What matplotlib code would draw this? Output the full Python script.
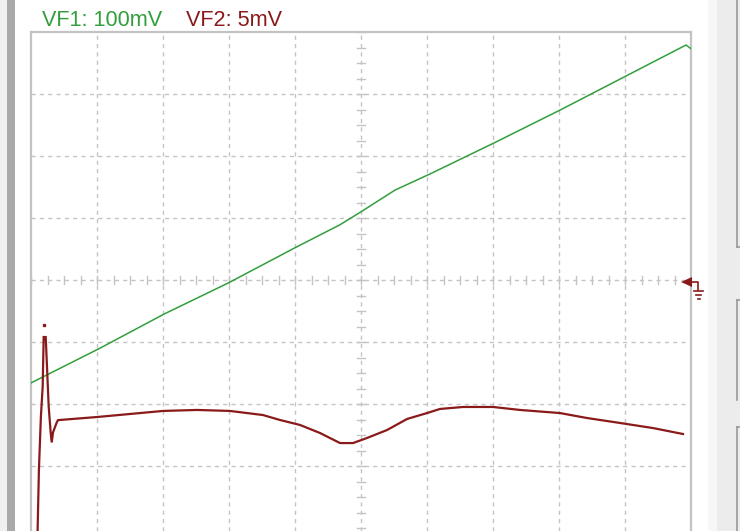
import matplotlib
matplotlib.use("Agg")
import matplotlib.pyplot as plt
from matplotlib.patches import Polygon, Rectangle
import numpy as np

# ---- data (x in horizontal divisions, values in mV) ----
vf1_scale_mv = 100.0   # mV per division
vf2_scale_mv = 5.0     # mV per division

vf1_t = [0.0, 1.045, 2.015, 2.985, 4.0, 4.68, 5.0, 5.515, 6.045, 7.015, 8.015, 9.015, 9.924, 10.0]
vf1_mv = [-166, -110, -55, -5, 52, 89, 110, 145, 171, 221, 274, 329, 379, 373]

vf2_t = [0.091, 0.10, 0.12, 0.15, 0.177, 0.192, 0.223, 0.238, 0.268, 0.298, 0.314, 0.333,
         0.389, 0.409, 1.0, 2.0, 2.515, 3.015, 3.515, 3.773, 4.076, 4.379, 4.682, 4.879,
         5.091, 5.394, 5.697, 6.0, 6.197, 6.545, 7.0, 7.409, 8.015, 8.424, 8.924, 9.424, 9.879]
vf2_mv = [-21.0, -20.2, -15.3, -11.0, -8.6, -4.6, -4.6, -6.45, -10.2, -12.3, -13.1, -12.3,
          -11.5, -11.3, -11.05, -10.56, -10.48, -10.56, -10.89, -11.29, -11.69, -12.34, -13.15, -13.15,
          -12.74, -12.10, -11.21, -10.73, -10.40, -10.24, -10.24, -10.48, -10.73, -11.13, -11.53, -11.94, -12.42]

vf2_dot_t = [0.197]
vf2_dot_mv = [-3.6]

label1 = "VF1: 100mV"
label2 = "VF2: 5mV"

green = "#329e3c"
red = "#8a1a1a"
grid_c = "#c4c4c4"

W, H = 740, 531
fig = plt.figure(figsize=(W / 100, H / 100), dpi=100)
fig.patch.set_facecolor("white")

# background / decoration axes in pixel coordinates
bg = fig.add_axes([0, 0, 1, 1], zorder=0)
bg.set_xlim(0, W)
bg.set_ylim(H, 0)
bg.axis("off")
bg.add_patch(Rectangle((0, 0), 7, H, color="#f0f0f0", lw=0))
bg.add_patch(Rectangle((7, 0), 8, H, color="#a9a9a9", lw=0))
bg.add_patch(Rectangle((708, 0), 9, H, color="#f7f7f7", lw=0))
bg.add_patch(Rectangle((717, 0), 23, H, color="#ececec", lw=0))
for (y0, y1) in [(0, 247), (300, 400), (427, 531)]:
    bg.plot([736.5, 736.5], [y0, y1], color="#9a9a9a", lw=1.2)
    bg.plot([736.5, 740], [y0 if y0 > 0 else y1, y0 if y0 > 0 else y1], color="#9a9a9a", lw=1.2)

# main scope axes
left_px, top_px, right_px, bottom_px = 31, 32, 691, 531
ax = fig.add_axes([left_px / W, 1 - bottom_px / H, (right_px - left_px) / W, (bottom_px - top_px) / H], zorder=1)
ax.set_facecolor("white")
ax.set_xlim(0, 10)
ax.set_ylim((280 - 531) / 62, 4)
for s in ["left", "top", "right"]:
    ax.spines[s].set_color("#c3c3c3")
    ax.spines[s].set_linewidth(1.6)
ax.spines["bottom"].set_visible(False)
ax.set_xticks([])
ax.set_yticks([])

dash = (0, (3.0, 3.0))
for gx in range(1, 10):
    ax.axvline(gx, color=grid_c, lw=1.0, linestyle=dash, zorder=1)
for gy in range(-3, 4):
    ax.axhline(gy, color=grid_c, lw=1.0, linestyle=dash, zorder=1)
# minor ticks along center axes (quarter divisions)
tx = 4 / 66
ty = 4 / 62
for k in np.arange(0, 10.01, 0.25):
    ax.plot([k, k], [-ty, ty], color=grid_c, lw=1.0, zorder=1)
for k in np.arange(-4, 4.01, 0.25):
    ax.plot([5 - tx, 5 + tx], [k, k], color=grid_c, lw=1.0, zorder=1)

ax.plot(vf1_t, np.array(vf1_mv) / vf1_scale_mv, color=green, lw=1.1, zorder=3)
ax.plot(vf2_t, np.array(vf2_mv) / vf2_scale_mv, color=red, lw=1.6, zorder=4, solid_joinstyle="miter")
ax.plot(vf2_dot_t, np.array(vf2_dot_mv) / vf2_scale_mv, "s", color=red, ms=1.5, zorder=4)

# overlay for labels / ground marker
ov = fig.add_axes([0, 0, 1, 1], zorder=2)
ov.set_xlim(0, W)
ov.set_ylim(H, 0)
ov.axis("off")
ov.patch.set_alpha(0)
ov.text(42, 26.5, label1, color=green, fontsize=15.6, family="Liberation Sans", va="baseline", ha="left")
ov.text(186.5, 26.5, label2, color=red, fontsize=15.6, family="Liberation Sans", va="baseline", ha="left")
ov.add_patch(Polygon([[681, 282], [692, 277], [692, 287]], closed=True, color=red, lw=0))
ov.plot([692, 698, 698], [282, 282, 290], color=red, lw=1.2)
ov.plot([694, 703], [290.5, 290.5], color=red, lw=1.2)
ov.plot([696, 701], [294.5, 294.5], color=red, lw=1.2)
ov.plot([697.5, 699.5], [298.5, 298.5], color=red, lw=1.2)

fig.savefig("out.png", dpi=100)
